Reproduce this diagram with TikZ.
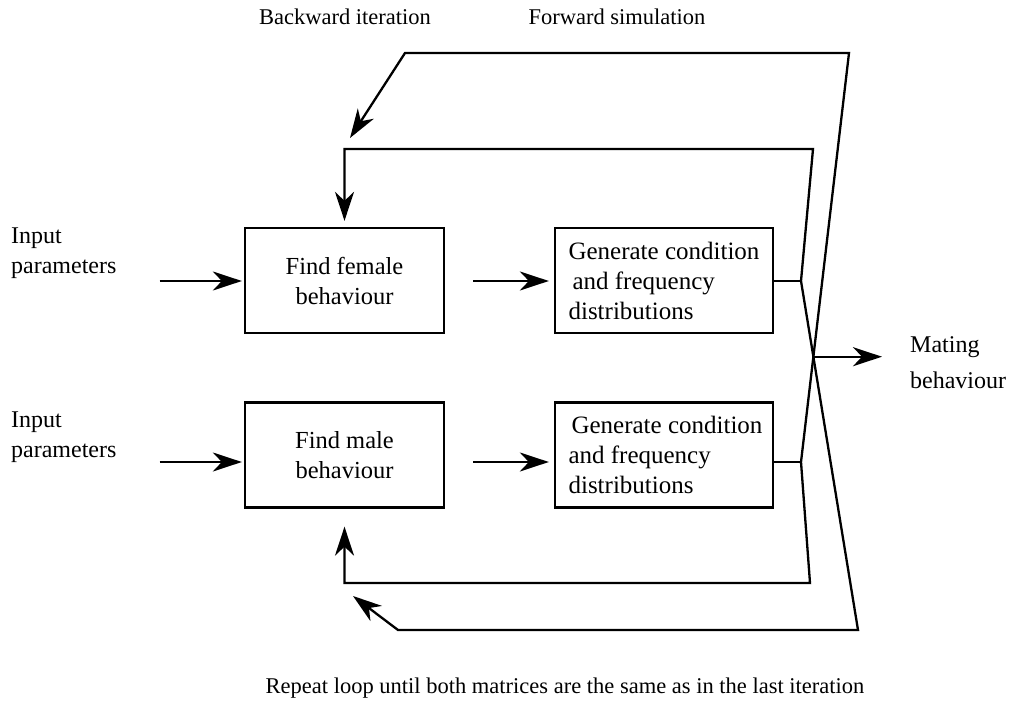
\documentclass[tikz,border=0pt]{standalone}
\usepackage{fontspec}
\setmainfont{Liberation Serif}
\usetikzlibrary{calc, positioning, arrows.meta}
\tikzstyle{stage}=[draw, line width=2.3pt, minimum width=199pt, minimum height=105pt, inner sep=0pt, font=\fontsize{24.5}{30}\selectfont]
\tikzstyle{gen}=[stage, align=left, minimum width=218pt, font=\fontsize{25}{30}\selectfont]
\tikzstyle{lbl}=[inner sep=0pt, align=left]
\tikzstyle{flow}=[-{Stealth[length=29pt, width=19pt, inset=9pt]}, line width=2.3pt]

\begin{document}
\begin{tikzpicture}[x=1pt, y=-1pt, font=\fontsize{23}{30}\selectfont, line width=2.3pt, line join=miter]

		%fix the page size
		\useasboundingbox (0,0) rectangle (1019,708);

		%headings
		\node[lbl, font=\fontsize{22.5}{30}\selectfont] (hback) at (345,17) {Backward iteration};
		\node[lbl, font=\fontsize{22.5}{30}\selectfont] (hfwd) at (617,17) {Forward simulation};

		%the four boxes
		\node[stage, align=center] (ffem) at (344.5,280.5) {Find female\\ behaviour};
		\node[stage, align=center] (fmal) at (344.5,455) {Find male\\ behaviour};
		\node[gen] (gfem) at (664,280.5) {Generate condition\\ \hspace{4pt}and frequency\\distributions};
		\node[gen] (gmal) at (664,455) {\hspace{6pt}Generate condition\\ \hspace{3pt}and frequency\\ \hspace{3pt}distributions};

		%inputs and output
		\node[lbl, anchor=west, font=\fontsize{24}{30}\selectfont] (inf) at (10,253) {Input\\parameters};
		\node[lbl, anchor=west, font=\fontsize{24}{30}\selectfont] (inm) at (10,437) {Input\\ parameters};
		\node[lbl, anchor=west, font=\fontsize{24}{36}\selectfont] (mate) at (909,363) {Mating\\behaviour};

		%junctions and corners of the loops
		\coordinate (jf) at (801,281);
		\coordinate (jm) at (801,462);
		\coordinate (ti) at (813,149);
		\coordinate (to) at (849,53);
		\coordinate (tl) at (405,53);
		\coordinate (ta) at (350,138);
		\coordinate (bi) at (810,583);
		\coordinate (bo) at (858,630);
		\coordinate (bl) at (398,630);
		\coordinate (ba) at (353,596);

		\draw[flow, shorten <=42pt, shorten >=2pt] (inf.east |- jf) -- (ffem.west |- jf);
		\draw[flow, shorten <=42pt, shorten >=2pt] (inm.east |- jm) -- (fmal.west |- jm);
		\draw[flow, shorten <=28pt, shorten >=5pt] (ffem.east |- jf) -- (gfem.west |- jf);
		\draw[flow, shorten <=28pt, shorten >=5pt] (fmal.east |- jm) -- (gmal.west |- jm);

		\draw (gfem.east |- jf) -- (jf);
		\draw (gmal.east |- jm) -- (jm);

		%backward loops
		\draw[flow, shorten >=6pt] (jf) -- (ti) -- (ti -| ffem) -- (ffem.north);
		\draw[flow, shorten >=18pt] (jm) -- (bi) -- (bi -| fmal) -- (fmal.south);

		%forward loops
		\draw[flow] (jm) -- (to) -- (tl) -- (ta);
		\draw[flow] (jf) -- (bo) -- (bl) -- (ba);

		\coordinate (cross) at (intersection of jf--bo and jm--to);
		\draw[flow, shorten >=27pt] (cross) -- (cross -| mate.west);

		\node[lbl, font=\fontsize{22.5}{26}\selectfont] (note) at (565,688) {Repeat loop until both matrices are the same as in the last iteration};

	\end{tikzpicture}
\end{document}
